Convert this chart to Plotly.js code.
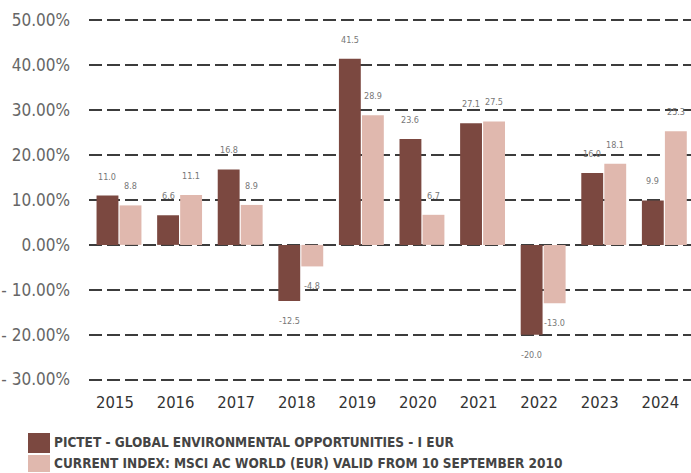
<!DOCTYPE html>
<html><head><meta charset="utf-8">
<script src="https://cdn.plot.ly/plotly-3.0.1.min.js"></script>
<style>html,body{margin:0;padding:0;background:#fff}#chart{width:691px;height:473px}</style>
</head><body><div id="chart"></div>
<script>
const years = ['2015','2016','2017','2018','2019','2020','2021','2022','2023','2024'];
const fundValues = [11.0, 6.6, 16.8, -12.5, 41.5, 23.6, 27.1, -20.0, 16.0, 9.9];
const indexValues = [8.8, 11.1, 8.9, -4.8, 28.9, 6.7, 27.5, -13.0, 18.1, 25.3];
const seriesNames = ['PICTET - GLOBAL ENVIRONMENTAL OPPORTUNITIES - I EUR',
                     'CURRENT INDEX: MSCI AC WORLD (EUR) VALID FROM 10 SEPTEMBER 2010'];
const yTickVals = [50, 40, 30, 20, 10, 0, -10, -20, -30];
const yTickText = ['50.00%','40.00%','30.00%','20.00%','10.00%','0.00%','- 10.00%','- 20.00%','- 30.00%'];

const colors = ['#7b4840', '#e0b8ae'];
const FONT = 'DejaVu Sans Condensed, Liberation Sans Narrow, sans-serif';

const W = 691, H = 473;
const M = {l: 89, r: 0, t: 16, b: 89};
const xRange = [-0.495, 9.44];
const yRange = [-31, 51];
const bargap = 0.24;
const plotW = W - M.l - M.r, plotH = H - M.t - M.b;
const pxPerCat = plotW / (xRange[1] - xRange[0]);
const barOffset = (1 - bargap) / 4 * pxPerCat;

function px2x(px){ return (px - M.l) / plotW; }
function px2y(py){ return (H - M.b - py) / plotH; }

const traces = [fundValues, indexValues].map((vals, i) => ({
  type: 'bar', x: years, y: vals, name: seriesNames[i],
  marker: {color: colors[i]}, showlegend: false, hoverinfo: 'x+y'
}));

const annotations = [];
[fundValues, indexValues].forEach((vals, i) => {
  vals.forEach((v, j) => {
    annotations.push({
      x: j, y: v, xref: 'x', yref: 'y', showarrow: false,
      text: v.toFixed(1), font: {family: FONT, size: 9, color: '#777777'},
      xshift: (i === 0 ? -1 : 1) * barOffset, yshift: v >= 0 ? 19 : -20,
      xanchor: 'center', yanchor: 'middle'
    });
  });
});
// custom legend
const legendRows = [{top: 433, bottom: 453, textY: 442}, {top: 455, bottom: 472, textY: 463}];
seriesNames.forEach((n, i) => {
  annotations.push({
    xref: 'paper', yref: 'paper', x: px2x(52), y: px2y(legendRows[i].textY),
    xanchor: 'left', yanchor: 'middle', showarrow: false, text: '<b>' + n + '</b>',
    font: {family: FONT, size: 13.5, color: '#444444'}
  });
});
const shapes = seriesNames.map((n, i) => ({
  type: 'rect', xref: 'paper', yref: 'paper',
  x0: px2x(28), x1: px2x(50), y0: px2y(legendRows[i].top), y1: px2y(legendRows[i].bottom),
  fillcolor: colors[i], line: {width: 0}
}));

const layout = {
  width: W, height: H, margin: M,
  paper_bgcolor: '#fff', plot_bgcolor: '#fff',
  barmode: 'group', bargap: bargap, bargroupgap: 0.05,
  showlegend: false,
  xaxis: {type: 'category', range: xRange, showgrid: false, zeroline: false, showline: false,
          ticks: '', ticklabelstandoff: 6, ticklabelshift: -4,
          tickfont: {family: FONT, size: 16.5, color: '#333333'}, fixedrange: true},
  yaxis: {range: yRange, tickvals: yTickVals, ticktext: yTickText,
          showgrid: true, gridcolor: '#3c3c3c', gridwidth: 2, griddash: '13px,5px',
          zeroline: false, showline: false, ticks: '', ticklabelstandoff: 18,
          tickfont: {family: FONT, size: 17, color: '#666666'}, fixedrange: true},
  annotations: annotations, shapes: shapes
};
Plotly.newPlot('chart', traces, layout, {displayModeBar: false, staticPlot: true});
</script></body></html>
